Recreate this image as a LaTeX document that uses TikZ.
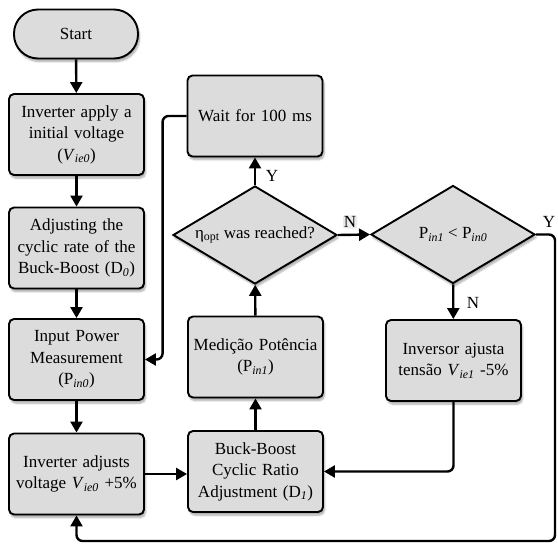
\documentclass[tikz,border=0pt]{standalone}
\usepackage{fontspec}
\setmainfont{Liberation Serif}
\usetikzlibrary{shapes.geometric,arrows.meta,shadows.blur}
\definecolor{boxgray}{RGB}{220,220,220}
\newcommand{\sbi}[1]{\textsubscript{\textit{#1}}}
\begin{document}
\begin{tikzpicture}[x=1pt,y=-1pt,
  every node/.style={font=\fontsize{17}{21.5}\selectfont},
  shad/.style={blur shadow={shadow xshift=1.5pt, shadow yshift=-3pt, shadow opacity=35, shadow blur steps=8}},
  proc/.style={draw, line width=1.9pt, fill=boxgray, rounded corners=5pt, text width=127pt, inner sep=4pt, minimum height=81pt, align=center, shad},
  term/.style={draw, line width=1.9pt, fill=boxgray, rounded corners=24pt, minimum width=124pt, minimum height=49pt, inner sep=0pt, shad},
  dec/.style={draw, shape=diamond, aspect=1.67, line width=1.9pt, fill=boxgray, minimum width=164pt, minimum height=98pt, inner sep=0pt, shad},
  arr/.style={line width=2.4pt, -{Triangle[length=11pt,width=12pt]}},
  lbl/.style={inner sep=1pt}
]
\useasboundingbox (0,0) rectangle (558,544);
\node[term] (start) at (76,34) {Start};
\node[proc] (b1) at (76.5,134.5) {Inverter apply a\\ initial voltage\\ (\textit{V}\sbi{ie0})};
\node[proc] (b2) at (76.5,248) {Adjusting the\\ cyclic rate of the\\ Buck-Boost (D\sbi{0})};
\node[proc] (b3) at (76.5,359.5) {Input Power\\ Measurement\\ (P\sbi{in0})};
\node[proc] (b4) at (76.5,474) {Inverter adjusts\\ voltage \textit{V}\sbi{ie0} +5\%};
\node[proc] (bb) at (255.5,471.5) {Buck-Boost\\ Cyclic Ratio\\ Adjustment (D\sbi{1})};
\node[proc] (med) at (255.5,357) {Medição Potência\\ (P\sbi{in1})};
\node[proc] (wait) at (255,116) {Wait for 100 ms};
\node[dec] (d1) at (255,235) {η\textsubscript{opt} was reached?};
\node[dec] (d2) at (453,234.5) {P\sbi{in1} < P\sbi{in0}};
\node[proc] (inv) at (453.5,360.5) {Inversor ajusta\\ tensão \textit{V}\sbi{ie1} -5\%};

\draw[arr] (start) -- (b1);
\draw[arr] (b1) -- (b2);
\draw[arr] (b2) -- (b3);
\draw[arr] (b3) -- (b4);
\draw[arr] (b4.east) -- (b4.east -| bb.west);
\draw[arr] (bb) -- (med);
\draw[arr] (med) -- (d1);
\draw[arr] (d1) -- (wait);
\draw[arr, rounded corners=6pt] (wait.west) -- ++(-24,0) |- (b3.east);
\draw[arr] (d1.east) -- (d2.west);
\draw[arr] (d2) -- (inv);
\draw[arr, rounded corners=6pt] (inv.south) |- (bb.east);
\coordinate (rc) at (555,541);
\draw[arr, rounded corners=6pt] (d2.east) -- (d2.east -| rc) -- (rc) -| (b4.south);

\node[lbl] (ly1) at (272,176) {Y};
\node[lbl, fill=black!8, rounded corners=2pt] (ln1) at (350,222) {N};
\node[lbl] (ly2) at (549,222) {Y};
\node[lbl] (ln2) at (473,303) {N};
\end{tikzpicture}
\end{document}
